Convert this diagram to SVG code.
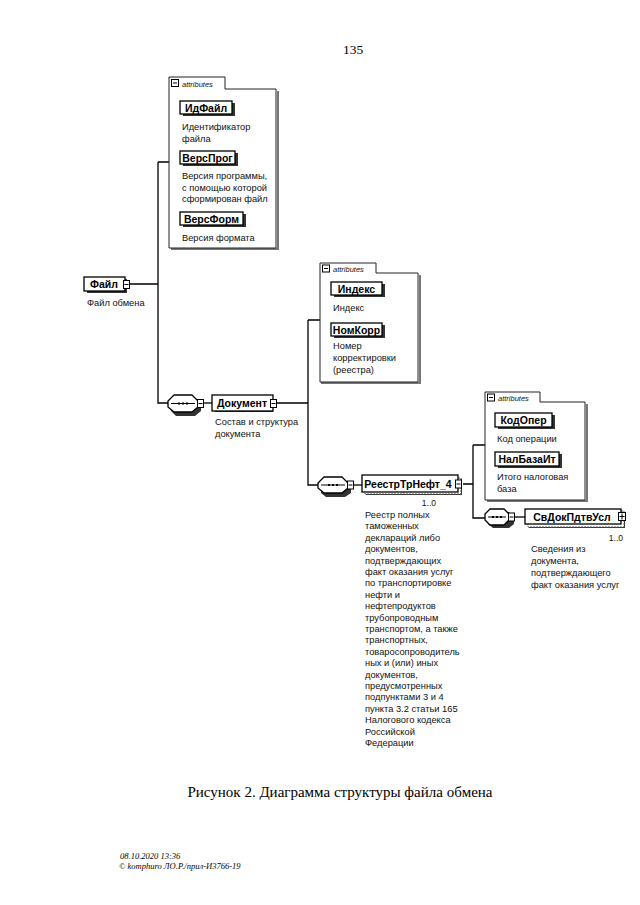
<svg xmlns="http://www.w3.org/2000/svg" width="640" height="905" viewBox="0 0 640 905">
<defs>
<style>
.bg{fill:#fff}
.box{fill:#fff;stroke:#000;stroke-width:1.3}
.sh{fill:#333}
.sh2{fill:#777}
.lbl{font-family:"Liberation Sans",Arial,sans-serif;font-size:10.5px;font-weight:bold;text-anchor:middle;fill:#000}
.doc{font-family:"Liberation Sans",Arial,sans-serif;font-size:9.3px;fill:#111}
.occ{font-family:"Liberation Sans",Arial,sans-serif;font-size:8.5px;fill:#111}
.con{stroke:#000;stroke-width:1.3;fill:none}
.grp{fill:#fff;stroke:#222;stroke-width:1}
.grpt{font-family:"Liberation Sans",Arial,sans-serif;font-size:7.5px;font-style:italic;fill:#111}
.ico{fill:#fff;stroke:#000;stroke-width:1}
.seq{fill:#fff;stroke:#000;stroke-width:1.3;stroke-linejoin:round}
.tm{font-family:"Liberation Serif","Times New Roman",serif;fill:#000}
</style>
</defs>
<rect class="bg" x="0" y="0" width="640" height="905"/>
<text class="tm" x="353" y="54" font-size="13.5" text-anchor="middle">135</text>

<g id="connectors">
<path class="con" d="M130 284 H158 M158 162 V403 H168 M158 162 H169"/>
<path class="con" d="M203 403 H212"/>
<path class="con" d="M277 403 H308 M308 320 V485 H318 M308 320 H320"/>
<path class="con" d="M354 485 H362"/>
<path class="con" d="M463 484 H473 M473 445 V518 H485 M473 445 H485"/>
<path class="con" d="M515 517 H525"/>
</g>

<g id="attrs1">
<path class="sh2" d="M277 91 h2 v159 h-108 v-2 h106 z"/>
<path class="grp" d="M169 77 H225 V89 H276 V248 H169 Z"/>
<rect class="ico" x="171.5" y="79.5" width="7" height="7"/>
<line x1="173" y1="83" x2="177" y2="83" stroke="#000" stroke-width="1"/>
<text class="grpt" x="182" y="86.5">attributes</text>
</g>
<g id="IdFile">
<rect class="sh" x="183" y="103" width="52" height="13"/>
<rect class="box" x="180" y="101" width="52" height="13"/>
<text class="lbl" x="206" y="111.5">ИдФайл</text>
<text class="doc" x="182" y="130">Идентификатор</text>
<text class="doc" x="182" y="141.5">файла</text>
</g>
<g id="VersProg">
<rect class="sh" x="183" y="153" width="55" height="13"/>
<rect class="box" x="180" y="151" width="55" height="13"/>
<text class="lbl" x="207.5" y="161.5">ВерсПрог</text>
<text class="doc" x="182" y="179">Версия программы,</text>
<text class="doc" x="182" y="190.5">с помощью которой</text>
<text class="doc" x="182" y="202">сформирован файл</text>
</g>
<g id="VersForm">
<rect class="sh" x="183" y="214" width="63" height="13"/>
<rect class="box" x="180" y="212" width="63" height="13"/>
<text class="lbl" x="211.5" y="222.5">ВерсФорм</text>
<text class="doc" x="182" y="241">Версия формата</text>
</g>

<g id="File">
<rect class="sh" x="87" y="279" width="40" height="14"/>
<rect class="box" x="84" y="277" width="41" height="14"/>
<text class="lbl" x="104" y="288">Файл</text>
<rect class="ico" x="123.5" y="280.5" width="6" height="8"/>
<line x1="124.5" y1="284.5" x2="128.5" y2="284.5" stroke="#000"/>
<text class="doc" x="87" y="305.5">Файл обмена</text>
</g>

<g id="seq1">
<polygon class="sh" points="176,398 195,398 201,404 201,411 195,416 176,416 171,411 171,404"/>
<polygon class="seq" points="174,395 192,395 198,401 198,407 192,412 174,412 168,407 168,401"/>
<line x1="171" y1="403.5" x2="195" y2="403.5" stroke="#000" stroke-width="1"/>
<rect x="178" y="402.5" width="2" height="2" fill="#000"/>
<rect x="182" y="402.5" width="2" height="2" fill="#000"/>
<rect x="186" y="402.5" width="2" height="2" fill="#000"/>
<rect class="ico" x="197.5" y="399.5" width="6" height="8"/>
<line x1="198.5" y1="403.5" x2="202.5" y2="403.5" stroke="#000"/>
</g>
<g id="Document">
<rect class="sh" x="215" y="397" width="58" height="15"/>
<rect class="box" x="212" y="395" width="61" height="16"/>
<text class="lbl" x="242" y="406.5">Документ</text>
<rect class="ico" x="270.5" y="399.5" width="6" height="8"/>
<line x1="271.5" y1="403.5" x2="275.5" y2="403.5" stroke="#000"/>
<text class="doc" x="215" y="425">Состав и структура</text>
<text class="doc" x="215" y="437">документа</text>
</g>

<g id="attrs2">
<path class="sh2" d="M419 275 h2 v109 h-100 v-2 h98 z"/>
<path class="grp" d="M320 263 H376 V273 H418 V382 H320 Z"/>
<rect class="ico" x="322.5" y="265" width="7" height="7"/>
<line x1="324" y1="268.5" x2="328" y2="268.5" stroke="#000" stroke-width="1"/>
<text class="grpt" x="333" y="271.5">attributes</text>
</g>
<g id="Index">
<rect class="sh" x="334" y="284" width="51" height="13"/>
<rect class="box" x="331" y="282" width="51" height="13"/>
<text class="lbl" x="356.5" y="292.5">Индекс</text>
<text class="doc" x="333" y="311">Индекс</text>
</g>
<g id="NomKorr">
<rect class="sh" x="334" y="325" width="51" height="13"/>
<rect class="box" x="331" y="323" width="51" height="13"/>
<text class="lbl" x="356.5" y="333.5">НомКорр</text>
<text class="doc" x="333" y="349">Номер</text>
<text class="doc" x="333" y="361">корректировки</text>
<text class="doc" x="333" y="373">(реестра)</text>
</g>

<g id="seq2">
<polygon class="sh" points="326,480 345,480 351,486 351,493 345,497 326,497 321,493 321,486"/>
<polygon class="seq" points="324,477 342,477 348,483 348,488 342,493 324,493 318,488 318,483"/>
<line x1="321" y1="485" x2="345" y2="485" stroke="#000" stroke-width="1"/>
<rect x="328" y="484" width="2" height="2" fill="#000"/>
<rect x="332" y="484" width="2" height="2" fill="#000"/>
<rect x="336" y="484" width="2" height="2" fill="#000"/>
<rect class="ico" x="347.5" y="481" width="6" height="8"/>
<line x1="348.5" y1="485" x2="352.5" y2="485" stroke="#000"/>
</g>
<g id="Reestr">
<rect class="sh" x="366" y="479" width="96" height="16"/>
<rect x="365" y="478" width="96" height="16" fill="#fff" stroke="#555" stroke-width="1" stroke-dasharray="2 1"/>
<rect class="box" x="362" y="475" width="96" height="17"/>
<text class="lbl" x="408" y="487.5">РеестрТрНефт_4</text>
<rect class="ico" x="455.5" y="480" width="6" height="8"/>
<line x1="456.5" y1="484" x2="460.5" y2="484" stroke="#000"/>
<text class="occ" x="436" y="506" text-anchor="end">1..0</text>
<text class="doc" x="365"><tspan x="365" y="518">Реестр полных</tspan><tspan x="365" y="529.4">таможенных</tspan><tspan x="365" y="540.8">деклараций либо</tspan><tspan x="365" y="552.2">документов,</tspan><tspan x="365" y="563.6">подтверждающих</tspan><tspan x="365" y="575">факт оказания услуг</tspan><tspan x="365" y="586.4">по транспортировке</tspan><tspan x="365" y="597.8">нефти и</tspan><tspan x="365" y="609.2">нефтепродуктов</tspan><tspan x="365" y="620.6">трубопроводным</tspan><tspan x="365" y="632">транспортом, а также</tspan><tspan x="365" y="643.4">транспортных,</tspan><tspan x="365" y="654.8">товаросопроводитель</tspan><tspan x="365" y="666.2">ных и (или) иных</tspan><tspan x="365" y="677.6">документов,</tspan><tspan x="365" y="689">предусмотренных</tspan><tspan x="365" y="700.4">подпунктами 3 и 4</tspan><tspan x="365" y="711.8">пункта 3.2 статьи 165</tspan><tspan x="365" y="723.2">Налогового кодекса</tspan><tspan x="365" y="734.6">Российской</tspan><tspan x="365" y="746">Федерации</tspan></text>
</g>

<g id="attrs3">
<path class="sh2" d="M586 404 h2 v98 h-101 v-2 h99 z"/>
<path class="grp" d="M485 392 H540 V402 H585 V500 H485 Z"/>
<rect class="ico" x="487.5" y="394" width="7" height="7"/>
<line x1="489" y1="397.5" x2="493" y2="397.5" stroke="#000" stroke-width="1"/>
<text class="grpt" x="498" y="400.5">attributes</text>
</g>
<g id="KodOper">
<rect class="sh" x="498" y="415" width="57" height="14"/>
<rect class="box" x="495" y="413" width="57" height="14"/>
<text class="lbl" x="523.5" y="424">КодОпер</text>
<text class="doc" x="497" y="442">Код операции</text>
</g>
<g id="NalBaza">
<rect class="sh" x="498" y="454" width="64" height="14"/>
<rect class="box" x="495" y="452" width="64" height="14"/>
<text class="lbl" x="527" y="463">НалБазаИт</text>
<text class="doc" x="497" y="480">Итого налоговая</text>
<text class="doc" x="497" y="492">база</text>
</g>

<g id="seq3">
<polygon class="sh" points="493,512 509,512 514,517 514,524 509,528 493,528 488,524 488,517"/>
<polygon class="seq" points="490,509 504,509 509,514 509,520 504,525 490,525 485,520 485,514"/>
<line x1="488" y1="517" x2="506" y2="517" stroke="#000" stroke-width="1"/>
<rect x="492" y="516" width="2" height="2" fill="#000"/>
<rect x="496" y="516" width="2" height="2" fill="#000"/>
<rect x="500" y="516" width="2" height="2" fill="#000"/>
<rect class="ico" x="508.5" y="513" width="6" height="8"/>
<line x1="509.5" y1="517" x2="513.5" y2="517" stroke="#000"/>
</g>
<g id="SvDok">
<rect class="sh" x="529" y="512" width="96" height="16"/>
<rect x="528" y="511" width="96" height="16" fill="#fff" stroke="#555" stroke-width="1" stroke-dasharray="2 1"/>
<rect class="box" x="525" y="509" width="96" height="15"/>
<text class="lbl" x="572" y="520.5">СвДокПдтвУсл</text>
<rect class="ico" x="618.5" y="512.5" width="7" height="8"/>
<line x1="619.5" y1="516.5" x2="624.5" y2="516.5" stroke="#000"/>
<line x1="622" y1="513.5" x2="622" y2="519.5" stroke="#000"/>
<text class="occ" x="623" y="541" text-anchor="end">1..0</text>
<text class="doc" x="531" y="552">Сведения из</text>
<text class="doc" x="531" y="564">документа,</text>
<text class="doc" x="531" y="576">подтверждающего</text>
<text class="doc" x="531" y="588">факт оказания услуг</text>
</g>

<text class="tm" x="340" y="797" font-size="15" text-anchor="middle">Рисунок 2. Диаграмма структуры файла обмена</text>
<text class="tm" x="120" y="859" font-size="8.5" font-style="italic">08.10.2020 13:36</text>
<text class="tm" x="119" y="869" font-size="8.5" font-style="italic">© komphuro ЛО.Р./прил-И3766-19</text>
</svg>
